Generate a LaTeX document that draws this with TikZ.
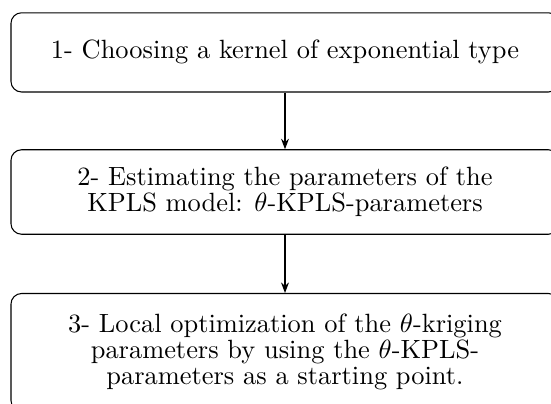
\documentclass[tikz,border=0pt]{standalone}
\usetikzlibrary{arrows.meta}
\tikzset{
  stepbox/.style={draw, rounded corners=4pt, align=center, line width=0.4pt,
    minimum width=207.6pt, inner sep=0pt,
    font=\fontsize{10}{9.8}\selectfont},
  flow/.style={-{Stealth[length=4pt,width=3pt]}, line width=0.4pt}
}
\begin{document}
\begin{tikzpicture}[x=0.3788pt, y=-0.3788pt]
  \useasboundingbox (0,0) rectangle (551,404);
  \clip (0,0) rectangle (551,404);
  % three process steps, stacked top to bottom
  \node[stepbox, minimum height=30pt] (s1) at (285,52.4)
    {1- Choosing a kernel of exponential type};
  \node[stepbox, minimum height=32pt] (s2) at (285,192)
    {2- Estimating the parameters of the\\KPLS model: $\theta$-KPLS-parameters};
  \node[stepbox, minimum height=44.5pt, anchor=north] (s3) at (285,293)
    {3- Local optimization of the $\theta$-kriging\\parameters by using the $\theta$-KPLS-\\parameters as a starting point.};
  \draw[flow] (s1) -- (s2);
  \draw[flow] (s2) -- (s3);
\end{tikzpicture}
\end{document}
